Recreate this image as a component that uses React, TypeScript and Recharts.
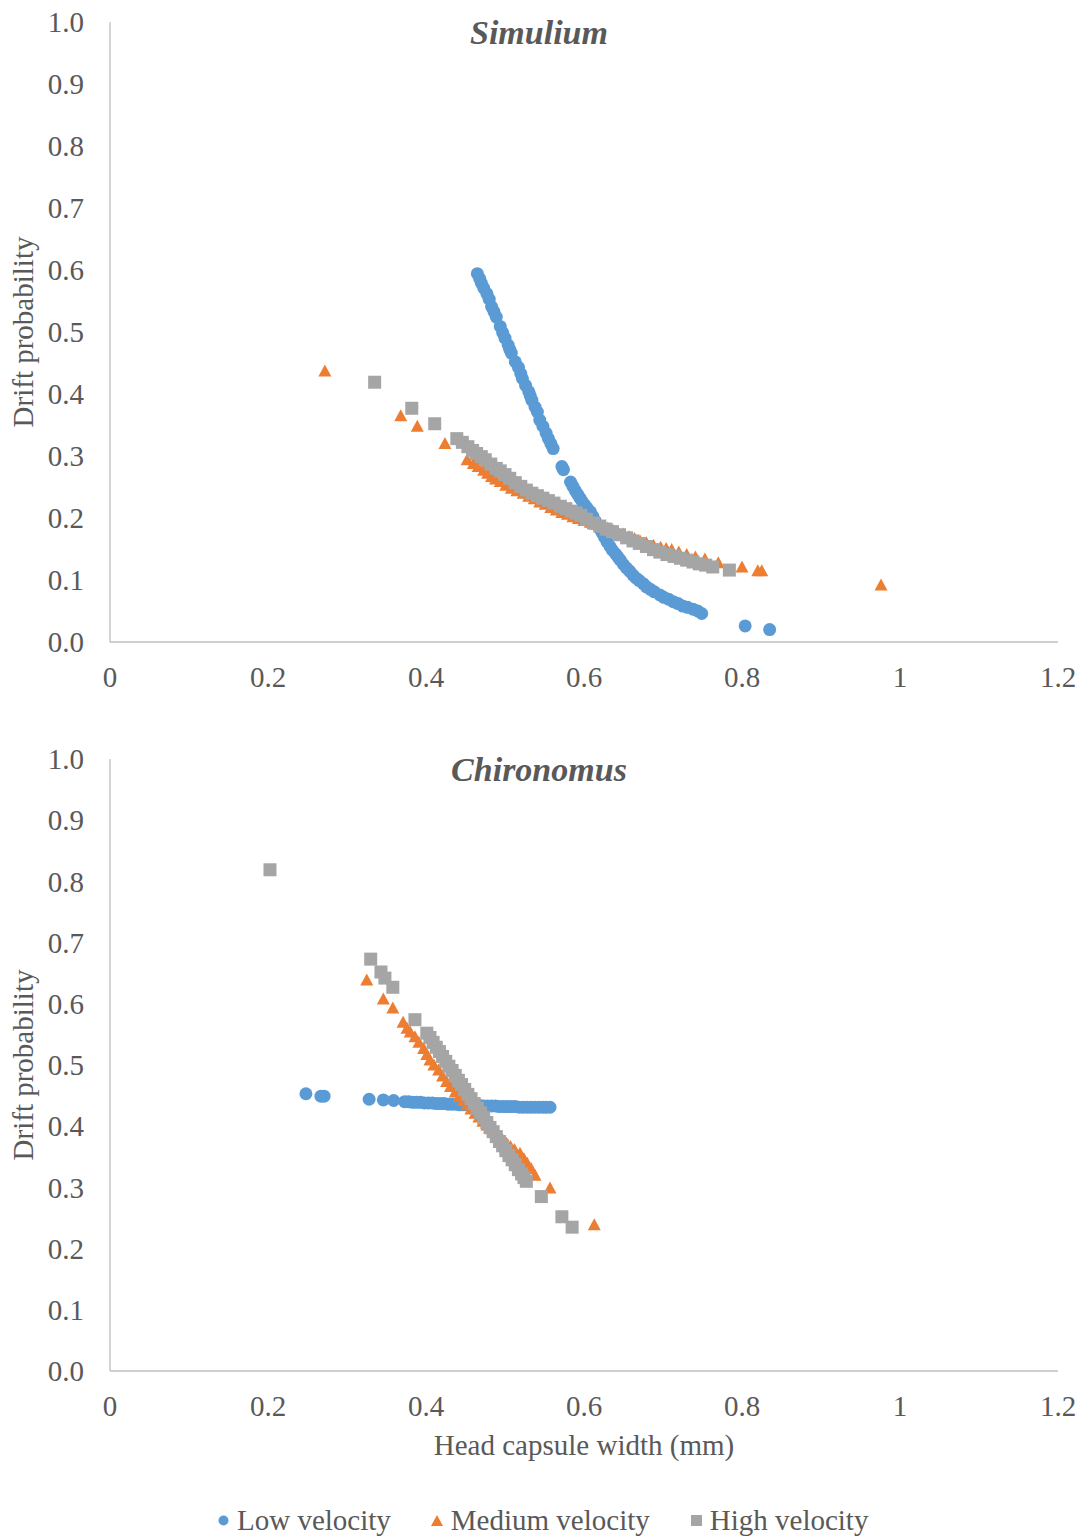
import React from 'react';
import { ScatterChart, Scatter, XAxis, YAxis } from 'recharts';

// ---- Axis ticks and labels ----
const xTicks = [0, 0.2, 0.4, 0.6, 0.8, 1, 1.2];
const xTickLabels = ['0', '0.2', '0.4', '0.6', '0.8', '1', '1.2'];
const yTicks = [0, 0.1, 0.2, 0.3, 0.4, 0.5, 0.6, 0.7, 0.8, 0.9, 1.0];
const yTickLabels = ['0.0', '0.1', '0.2', '0.3', '0.4', '0.5', '0.6', '0.7', '0.8', '0.9', '1.0'];
const seriesNames = ['Low velocity', 'Medium velocity', 'High velocity'];
const panelTitles = ['Simulium', 'Chironomus'];
const xAxisTitle = 'Head capsule width (mm)';
const yAxisTitle = 'Drift probability';

// ---- Simulium: [head capsule width, drift probability] ----
const simuliumLow: [number, number][] = [
  [0.465, 0.594], [0.468, 0.586], [0.470, 0.579], [0.473, 0.571], [0.477, 0.562], [0.480, 0.553],
  [0.483, 0.541], [0.486, 0.533], [0.489, 0.524], [0.494, 0.509], [0.497, 0.499], [0.500, 0.490],
  [0.504, 0.479], [0.506, 0.472], [0.508, 0.466], [0.513, 0.452], [0.517, 0.443], [0.520, 0.433],
  [0.522, 0.425], [0.526, 0.414], [0.530, 0.404], [0.532, 0.397], [0.534, 0.390], [0.538, 0.379],
  [0.541, 0.371], [0.544, 0.358], [0.548, 0.348], [0.552, 0.337], [0.555, 0.328], [0.558, 0.320],
  [0.561, 0.312], [0.572, 0.283], [0.574, 0.278], [0.583, 0.258], [0.586, 0.251], [0.589, 0.244],
  [0.592, 0.238], [0.595, 0.232], [0.598, 0.226], [0.601, 0.221], [0.604, 0.216], [0.608, 0.210],
  [0.611, 0.203], [0.614, 0.196], [0.617, 0.189], [0.620, 0.183], [0.623, 0.176], [0.626, 0.169],
  [0.629, 0.162], [0.633, 0.154], [0.636, 0.148], [0.640, 0.142], [0.643, 0.137], [0.646, 0.132],
  [0.650, 0.125], [0.654, 0.119], [0.658, 0.114], [0.662, 0.108], [0.666, 0.103], [0.670, 0.099],
  [0.675, 0.094], [0.679, 0.089], [0.684, 0.085], [0.689, 0.081], [0.696, 0.076], [0.701, 0.072],
  [0.707, 0.069], [0.713, 0.065], [0.719, 0.062], [0.725, 0.058], [0.731, 0.056], [0.738, 0.053],
  [0.744, 0.050], [0.749, 0.046], [0.804, 0.026], [0.835, 0.020],
];
const simuliumMedium: [number, number][] = [
  [0.272, 0.437], [0.368, 0.365], [0.389, 0.348], [0.424, 0.320], [0.452, 0.294], [0.460, 0.288],
  [0.466, 0.283], [0.473, 0.277], [0.478, 0.272], [0.483, 0.267], [0.488, 0.263], [0.494, 0.259],
  [0.501, 0.253], [0.508, 0.248], [0.515, 0.244], [0.523, 0.240], [0.530, 0.235], [0.537, 0.231],
  [0.544, 0.226], [0.551, 0.222], [0.558, 0.217], [0.565, 0.213], [0.572, 0.209], [0.579, 0.206],
  [0.586, 0.202], [0.593, 0.199], [0.600, 0.196], [0.608, 0.193], [0.615, 0.190], [0.622, 0.187],
  [0.630, 0.184], [0.637, 0.180], [0.643, 0.177], [0.650, 0.174], [0.657, 0.170], [0.664, 0.167],
  [0.671, 0.163], [0.679, 0.160], [0.688, 0.156], [0.697, 0.153], [0.704, 0.151], [0.711, 0.149],
  [0.720, 0.145], [0.730, 0.141], [0.741, 0.137], [0.753, 0.134], [0.770, 0.128], [0.800, 0.121],
  [0.820, 0.115], [0.825, 0.115], [0.976, 0.092],
];
const simuliumHigh: [number, number][] = [
  [0.335, 0.419], [0.382, 0.377], [0.411, 0.352], [0.439, 0.328], [0.446, 0.322], [0.453, 0.315],
  [0.459, 0.309], [0.464, 0.304], [0.470, 0.299], [0.475, 0.294], [0.482, 0.287], [0.489, 0.280],
  [0.494, 0.276], [0.500, 0.270], [0.506, 0.264], [0.513, 0.257], [0.520, 0.251], [0.527, 0.245],
  [0.534, 0.240], [0.541, 0.236], [0.548, 0.232], [0.555, 0.228], [0.562, 0.224], [0.570, 0.219],
  [0.577, 0.215], [0.584, 0.211], [0.590, 0.208], [0.596, 0.204], [0.603, 0.198], [0.612, 0.192],
  [0.620, 0.187], [0.628, 0.182], [0.636, 0.178], [0.645, 0.173], [0.654, 0.168], [0.662, 0.163],
  [0.670, 0.159], [0.679, 0.154], [0.688, 0.149], [0.696, 0.145], [0.705, 0.141], [0.714, 0.138],
  [0.722, 0.135], [0.730, 0.132], [0.738, 0.129], [0.746, 0.126], [0.754, 0.124], [0.763, 0.121],
  [0.784, 0.116],
];

// ---- Chironomus ----
const chironomusLow: [number, number][] = [
  [0.248, 0.453], [0.267, 0.449], [0.271, 0.449], [0.328, 0.444], [0.346, 0.443], [0.359, 0.442],
  [0.373, 0.440], [0.378, 0.440], [0.383, 0.439], [0.388, 0.439], [0.393, 0.439], [0.398, 0.438],
  [0.403, 0.438], [0.408, 0.438], [0.413, 0.437], [0.418, 0.437], [0.423, 0.437], [0.428, 0.436],
  [0.433, 0.436], [0.438, 0.436], [0.443, 0.435], [0.448, 0.435], [0.453, 0.435], [0.458, 0.434],
  [0.463, 0.434], [0.468, 0.434], [0.473, 0.433], [0.478, 0.433], [0.483, 0.433], [0.488, 0.433],
  [0.493, 0.432], [0.498, 0.432], [0.503, 0.432], [0.508, 0.432], [0.513, 0.432], [0.518, 0.431],
  [0.523, 0.431], [0.528, 0.431], [0.533, 0.431], [0.538, 0.431], [0.543, 0.431], [0.548, 0.431],
  [0.552, 0.431], [0.557, 0.431],
];
const chironomusMedium: [number, number][] = [
  [0.325, 0.639], [0.346, 0.608], [0.358, 0.593], [0.371, 0.570], [0.376, 0.560], [0.380, 0.554],
  [0.386, 0.546], [0.391, 0.537], [0.397, 0.527], [0.401, 0.517], [0.405, 0.508], [0.410, 0.500],
  [0.416, 0.492], [0.421, 0.482], [0.426, 0.473], [0.431, 0.465], [0.437, 0.456], [0.442, 0.449],
  [0.447, 0.442], [0.452, 0.435], [0.457, 0.428], [0.462, 0.421], [0.467, 0.415], [0.472, 0.408],
  [0.477, 0.402], [0.482, 0.396], [0.487, 0.390], [0.492, 0.384], [0.497, 0.378], [0.502, 0.372],
  [0.507, 0.367], [0.512, 0.362], [0.519, 0.356], [0.524, 0.347], [0.528, 0.340], [0.533, 0.331],
  [0.538, 0.320], [0.557, 0.299], [0.613, 0.239],
];
const chironomusHigh: [number, number][] = [
  [0.2025, 0.819], [0.330, 0.673], [0.343, 0.652], [0.348, 0.642], [0.358, 0.627], [0.386, 0.574],
  [0.401, 0.552], [0.405, 0.545], [0.409, 0.537], [0.413, 0.529], [0.417, 0.522], [0.421, 0.514],
  [0.425, 0.506], [0.429, 0.498], [0.433, 0.491], [0.437, 0.483], [0.441, 0.475], [0.445, 0.468],
  [0.449, 0.460], [0.453, 0.452], [0.457, 0.445], [0.461, 0.437], [0.465, 0.429], [0.469, 0.422],
  [0.473, 0.414], [0.477, 0.406], [0.481, 0.398], [0.485, 0.391], [0.489, 0.383], [0.493, 0.375],
  [0.497, 0.368], [0.501, 0.360], [0.505, 0.352], [0.509, 0.345], [0.513, 0.337], [0.517, 0.329],
  [0.521, 0.322], [0.524, 0.316], [0.527, 0.310], [0.546, 0.285], [0.572, 0.252], [0.585, 0.235],
];

// ---- Styles ----
const COLORS = { low: '#5B9BD5', med: '#ED7D31', high: '#A5A5A5' };
const FONT = '"Liberation Serif", "Times New Roman", serif';
const TEXT = '#595959';
const AXIS = '#BFBFBF';

const toPoints = (arr: [number, number][]) => arr.map(([x, y]) => ({ x, y }));

const CircleShape = (p: any) =>
  p.cx == null ? null : <circle cx={p.cx} cy={p.cy} r={6.5} fill={COLORS.low} />;
const TriangleShape = (p: any) =>
  p.cx == null ? null : (
    <polygon
      points={`${p.cx},${p.cy - 6.5} ${p.cx + 6.5},${p.cy + 5.5} ${p.cx - 6.5},${p.cy + 5.5}`}
      fill={COLORS.med}
    />
  );
const SquareShape = (p: any) =>
  p.cx == null ? null : <rect x={p.cx - 6.5} y={p.cy - 6.5} width={13} height={13} fill={COLORS.high} />;

const YTitle = (props: any) => {
  const vb = props.viewBox || { y: 22, height: 620 };
  const cy = vb.y + vb.height / 2;
  return (
    <text
      x={33}
      y={cy}
      transform={`rotate(-90, 33, ${cy})`}
      textAnchor="middle"
      fill={TEXT}
      fontSize={29}
      fontFamily={FONT}
    >
      {yAxisTitle}
    </text>
  );
};

type PanelProps = {
  low: [number, number][];
  med: [number, number][];
  high: [number, number][];
  height: number;
  xAxisHeight: number;
  marginBottom: number;
  showXTitle: boolean;
};

function Panel({ low, med, high, height, xAxisHeight, marginBottom, showXTitle }: PanelProps) {
  const tickStyle = { fill: TEXT, fontSize: 29, fontFamily: FONT };
  return (
    <ScatterChart width={1085} height={height} margin={{ top: 22, right: 27, bottom: marginBottom, left: 0 }}>
      <XAxis
        type="number"
        dataKey="x"
        domain={[0, 1.2]}
        ticks={xTicks}
        interval={0}
        tickFormatter={(v: number) => xTickLabels[xTicks.indexOf(v)] ?? String(v)}
        height={xAxisHeight}
        axisLine={{ stroke: AXIS, strokeWidth: 1.3 }}
        tickLine={false}
        tickSize={0}
        tickMargin={24}
        tick={tickStyle}
        label={
          showXTitle
            ? { value: xAxisTitle, position: 'bottom', offset: 23, fill: TEXT, fontSize: 29, fontFamily: FONT }
            : undefined
        }
      />
      <YAxis
        type="number"
        dataKey="y"
        domain={[0, 1]}
        ticks={yTicks}
        interval={0}
        tickFormatter={(v: number) => yTickLabels[Math.round(v * 10)]}
        width={110}
        axisLine={{ stroke: AXIS, strokeWidth: 1.3 }}
        tickLine={false}
        tickSize={0}
        tickMargin={26}
        tick={tickStyle}
        label={YTitle}
      />
      <Scatter name={seriesNames[0]} data={toPoints(low)} shape={CircleShape} isAnimationActive={false} />
      <Scatter name={seriesNames[1]} data={toPoints(med)} shape={TriangleShape} isAnimationActive={false} />
      <Scatter name={seriesNames[2]} data={toPoints(high)} shape={SquareShape} isAnimationActive={false} />
    </ScatterChart>
  );
}

const titleStyle: React.CSSProperties = {
  position: 'absolute',
  left: 0,
  width: 1078,
  textAlign: 'center',
  fontFamily: FONT,
  fontSize: 34,
  lineHeight: '34px',
  fontWeight: 'bold',
  fontStyle: 'italic',
  color: TEXT,
};

const legendText: React.CSSProperties = {
  fontFamily: FONT,
  fontSize: 29,
  lineHeight: '29px',
  color: TEXT,
  whiteSpace: 'nowrap',
};

export default function App() {
  return (
    <div style={{ position: 'absolute', left: 0, top: 0, width: 1085, height: 1537, background: '#fff', overflow: 'hidden' }}>
      <div style={{ position: 'absolute', left: 0, top: 0 }}>
        <Panel low={simuliumLow} med={simuliumMedium} high={simuliumHigh} height={700} xAxisHeight={58} marginBottom={0} showXTitle={false} />
      </div>
      <div style={{ ...titleStyle, top: 16 }}>{panelTitles[0]}</div>
      <div style={{ position: 'absolute', left: 0, top: 737 }}>
        <Panel low={chironomusLow} med={chironomusMedium} high={chironomusHigh} height={740} xAxisHeight={40} marginBottom={66} showXTitle={true} />
      </div>
      <div style={{ ...titleStyle, top: 753 }}>{panelTitles[1]}</div>
      <div style={{ position: 'absolute', left: 218, top: 1506, display: 'flex', alignItems: 'center' }}>
        <svg width={11} height={11} style={{ marginRight: 8 }}>
          <circle cx={5.5} cy={5.5} r={5} fill={COLORS.low} />
        </svg>
        <span style={{ ...legendText, marginRight: 40 }}>{seriesNames[0]}</span>
        <svg width={12} height={11} style={{ marginRight: 8 }}>
          <polygon points="6,0 12,11 0,11" fill={COLORS.med} />
        </svg>
        <span style={{ ...legendText, marginRight: 41 }}>{seriesNames[1]}</span>
        <svg width={11} height={11} style={{ marginRight: 8 }}>
          <rect x={0} y={0} width={11} height={11} fill={COLORS.high} />
        </svg>
        <span style={legendText}>{seriesNames[2]}</span>
      </div>
    </div>
  );
}
